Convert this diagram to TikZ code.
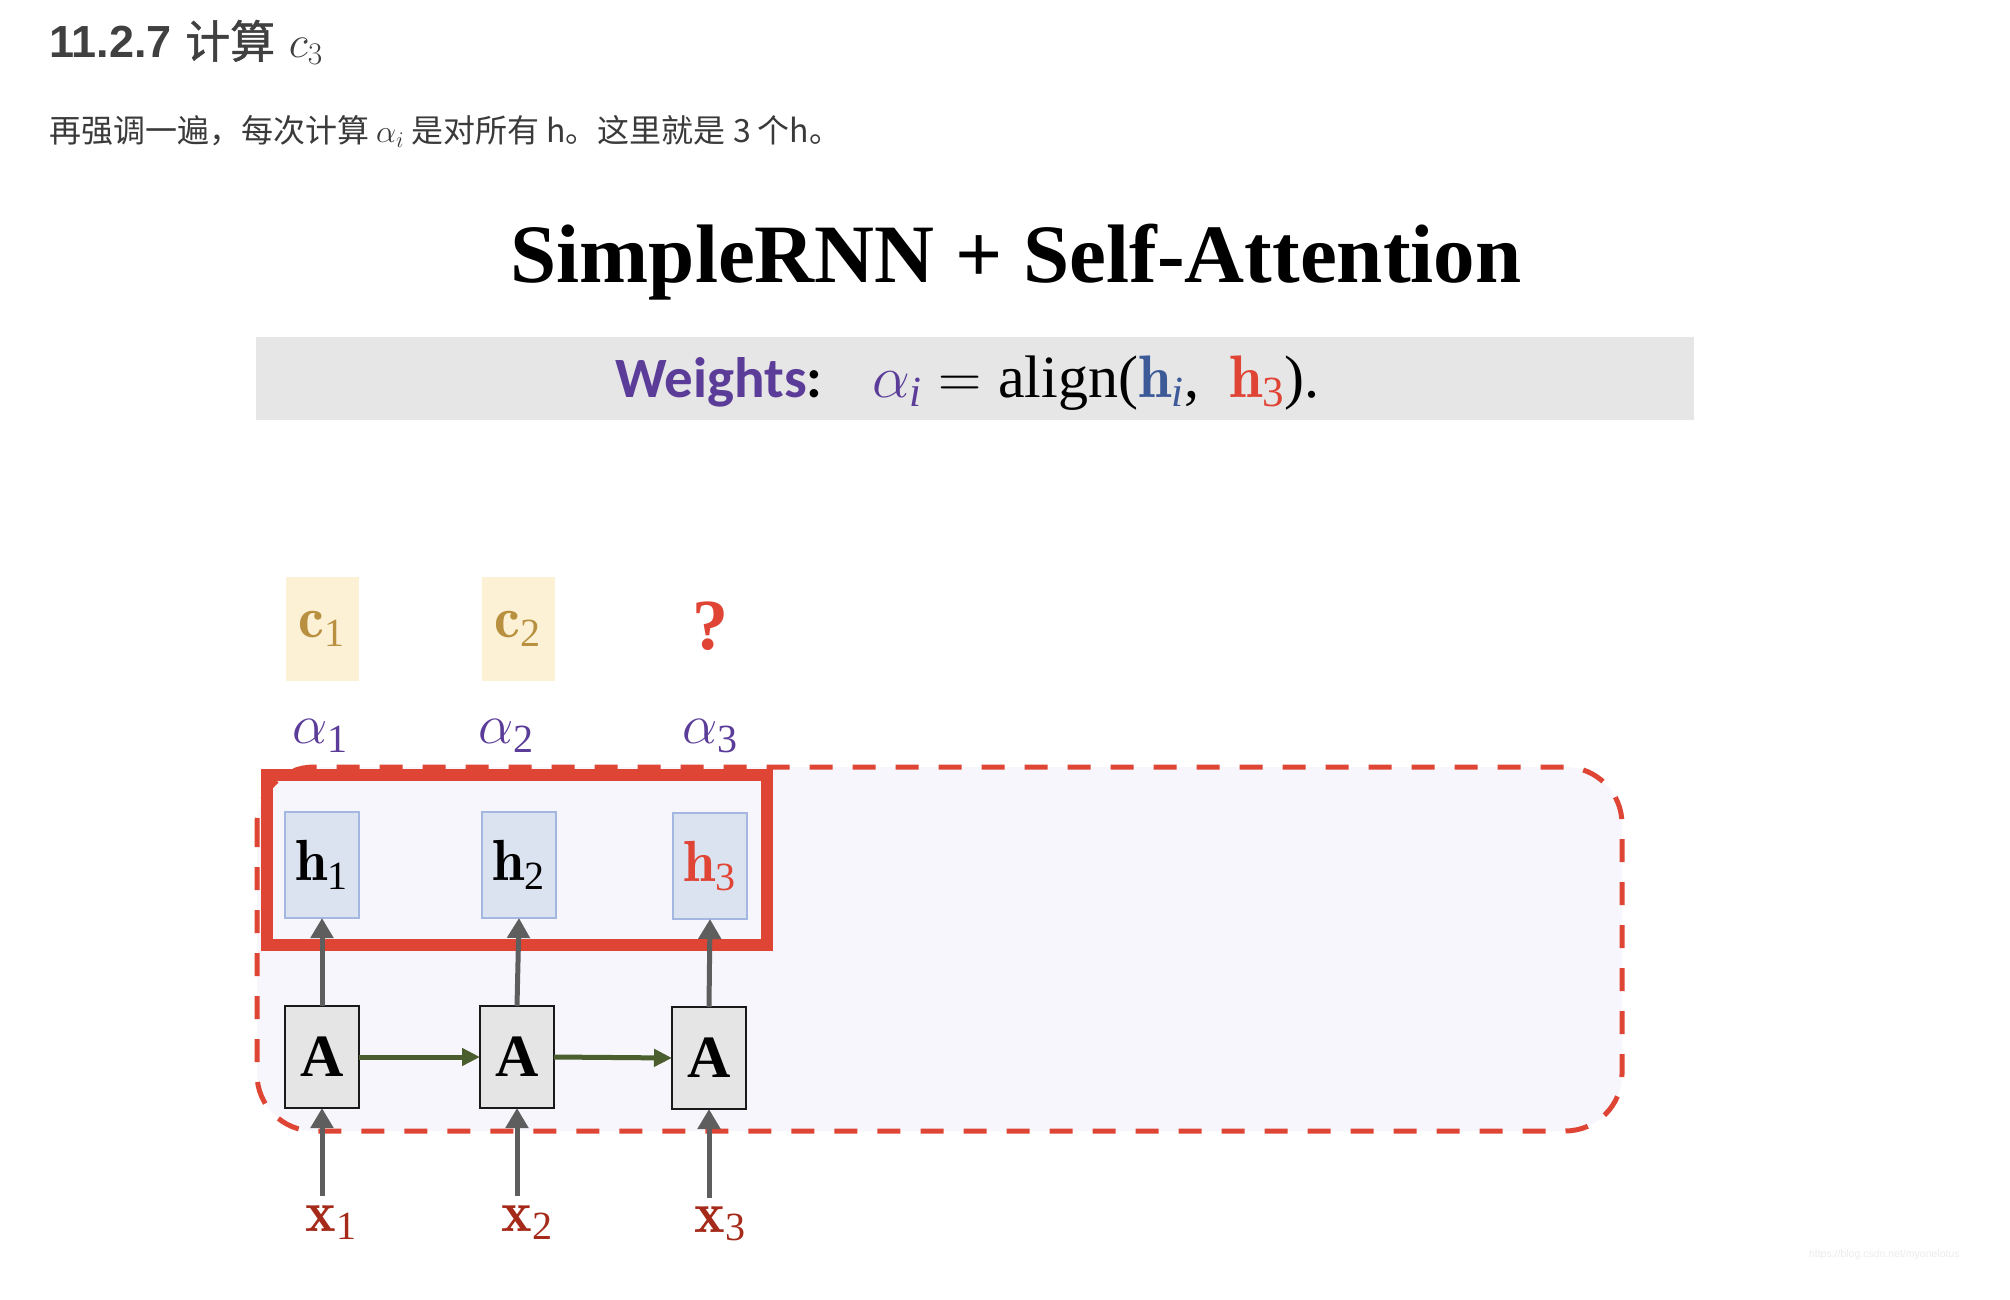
\RequirePackage{fix-cm}
\documentclass[tikz,border=0pt]{standalone}
\usepackage{fontspec}
\newfontfamily\cjk{Noto Sans CJK SC}
\newfontfamily\cjkmed[FakeBold=1.2]{Noto Sans CJK SC}
\newfontfamily\carlito{Carlito}
\newfontfamily\libserif{Liberation Serif}
\newfontfamily\libsans{Liberation Sans}
\usetikzlibrary{arrows.meta}
\newcommand\subn[2][40]{_{\mbox{\libserif\fontsize{#1}{#1}\selectfont #2}}}
\newcommand\subi[2][40]{_{\mbox{\libserif\itshape\fontsize{#1}{#1}\selectfont #2}}}
\definecolor{hdr}{HTML}{404040}
\definecolor{txt}{HTML}{3A3A3A}
\definecolor{bannergray}{HTML}{E6E6E6}
\definecolor{wpurple}{HTML}{5B3D99}
\definecolor{hblue}{HTML}{3D5A98}
\definecolor{hred}{HTML}{E04434}
\definecolor{gold}{HTML}{B8903F}
\definecolor{cfill}{HTML}{FCF1D5}
\definecolor{hfill}{HTML}{DBE3F0}
\definecolor{hborder}{HTML}{A3B7E0}
\definecolor{afill}{HTML}{E5E5E5}
\definecolor{xred}{HTML}{A52A1A}
\definecolor{framered}{HTML}{DE4535}
\definecolor{lav}{HTML}{F8F6FD}
\definecolor{arrgray}{HTML}{5E5E5E}
\definecolor{arrgreen}{HTML}{4B5E2E}
\definecolor{wm}{HTML}{ECECEC}
\tikzset{
  cbox/.style={fill=cfill, minimum width=73pt, minimum height=104pt, text=gold, font=\fontsize{58}{60}\selectfont},
  alab/.style={text=wpurple, font=\fontsize{56}{60}\selectfont},
  hbox/.style={fill=hfill, draw=hborder, line width=1.5pt, minimum width=74pt, minimum height=106pt, font=\fontsize{58}{60}\selectfont},
  abox/.style={fill=afill, draw=black!90, line width=1.8pt, minimum width=74pt, minimum height=102pt, font=\libserif\bfseries\fontsize{60}{64}\selectfont},
  xlab/.style={text=xred, font=\fontsize{58}{60}\selectfont, anchor=base},
  grayarrow/.style={draw=arrgray, line width=5pt, -{Triangle[width=22pt,length=20pt]}},
  greenarrow/.style={draw=arrgreen, line width=5pt, -{Triangle[width=17pt,length=18pt]}},
}
\begin{document}
\begin{tikzpicture}[x=1pt,y=-1pt, every node/.style={inner sep=0pt, outer sep=0pt}]
\useasboundingbox (0,0) rectangle (2010,1300);
\fill[white] (0,0) rectangle (2010,1300);

% header texts
\node[anchor=base west, text=hdr, font=\fontsize{45}{54}\selectfont] (hd) at (49,58) {{\libsans\bfseries 11.2.7} {\cjkmed 计算} $c_3$};
\node[anchor=base west, text=txt, font=\cjk\fontsize{32}{40}\selectfont] (ln) at (49,143) {再强调一遍，每次计算 $\alpha_i$ 是对所有 h。这里就是 3 个h。};

% title
\node[anchor=base, font=\libserif\bfseries\fontsize{83}{90}\selectfont] (title) at (1016,282) {SimpleRNN + Self-Attention};

% banner
\node[fill=bannergray, minimum width=1438pt, minimum height=83pt, anchor=north west] (banner) at (256,337) {};
\node[anchor=base west, font=\carlito\bfseries\fontsize{57}{60}\selectfont] (wt) at (615,397) {\textcolor{wpurple}{Weights}:};
\node[anchor=base west, font=\fontsize{60}{64}\selectfont] (fm) at (872,397) {$\textcolor{wpurple}{\alpha\subi[43]{i}} = \mbox{\libserif align(}\textcolor{hblue}{\mathbf{h}\subi[43]{i}}\mbox{\libserif ,\ \ }\textcolor{hred}{\mathbf{h}\subn[43]{3}}\mbox{\libserif ).}$};

% dashed region fill
\fill[lav, rounded corners=57pt] (257,767) rectangle (1622,1131);
% solid red frame
\draw[framered, line width=12pt] (267,775) rectangle (767,945);
% dashed outline
\draw[framered, line width=5pt, dash pattern=on 23pt off 20pt, rounded corners=57pt] (257,767) rectangle (1622,1131);

% c boxes
\node[cbox] (c1) at (322,629) {$\mathbf{c}\subn{1}$};
\node[cbox] (c2) at (518,629) {$\mathbf{c}\subn{2}$};
\node[text=hred, font=\libserif\bfseries\fontsize{72}{76}\selectfont] (q) at (710,626) {?};

% alphas
\node[alab] (a1) at (320,736) {$\alpha\subn{1}$};
\node[alab] (a2) at (506,736) {$\alpha\subn{2}$};
\node[alab] (a3) at (710,736) {$\alpha\subn{3}$};

% h boxes
\node[hbox] (h1) at (322,865) {$\mathbf{h}\subn{1}$};
\node[hbox] (h2) at (519,865) {$\mathbf{h}\subn{2}$};
\node[hbox, text=hred] (h3) at (710,866) {$\mathbf{h}\subn{3}$};

% A boxes
\node[abox] (A1) at (322,1057) {A};
\node[abox] (A2) at (517,1057) {A};
\node[abox] (A3) at (709,1058) {A};

% x labels
\node[xlab] (x1) at (331,1231) {$\mathbf{x}\subn{1}$};
\node[xlab] (x2) at (527,1231) {$\mathbf{x}\subn{2}$};
\node[xlab] (x3) at (720,1232) {$\mathbf{x}\subn{3}$};
\coordinate (s1) at (322,1196);
\coordinate (s2) at (517,1196);
\coordinate (s3) at (709,1198);

% arrows
\draw[grayarrow] (A1.north) -- (h1.south);
\draw[grayarrow] (A2.north) -- (h2.south);
\draw[grayarrow] (A3.north) -- (h3.south);
\draw[grayarrow] (s1) -- (A1.south);
\draw[grayarrow] (s2) -- (A2.south);
\draw[grayarrow] (s3) -- (A3.south);
\draw[greenarrow] (A1.east) -- (A2.west);
\draw[greenarrow] (A2.east) -- (A3.west);

% watermark
\node[anchor=base west, text=wm, font=\libsans\fontsize{10.5}{12}\selectfont] (wmk) at (1809,1257) {https://blog.csdn.net/myonelotus};
\end{tikzpicture}
\end{document}
